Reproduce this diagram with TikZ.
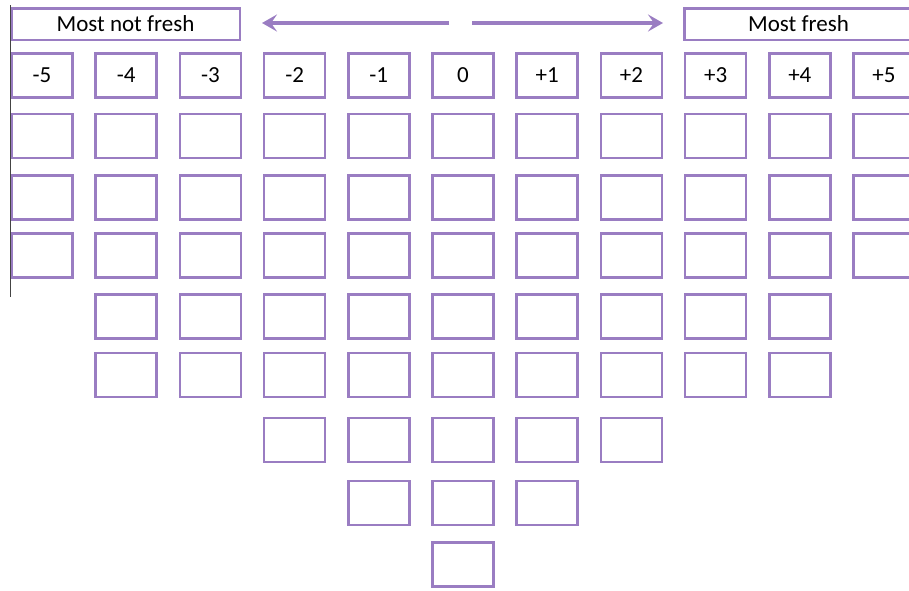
\documentclass[tikz,border=0pt]{standalone}
\usepackage{fontspec}
\setmainfont{Carlito}
\usetikzlibrary{arrows.meta,positioning}
\definecolor{lavender}{HTML}{9A7DC2}
\definecolor{edgegray}{HTML}{444444}

\begin{document}
\begin{tikzpicture}[x=1pt, y=-1pt,
  cell/.style={draw=lavender, line width=2.5pt, minimum width=61pt, minimum height=44pt, inner sep=0pt, font=\fontsize{23}{27}\selectfont},
  head/.style={cell, minimum width=228.5pt, minimum height=31.5pt},
  arr/.style={-{Stealth[length=15pt,width=17pt,inset=6pt]}, draw=lavender, line width=3.5pt}]
\useasboundingbox (0,0) rectangle (909,590);
% top labels and arrows
\node[head] (notfresh) at (125.5,24) {Most not fresh};
\node[head] (fresh) at (798.5,24) {Most fresh};
\coordinate (midl) at (449,23);
\coordinate (midr) at (472,23);
\draw[arr, shorten >=21pt] (midl) -- (notfresh.east |- midl);
\draw[arr, shorten >=20pt] (midr) -- (fresh.west |- midr);
% score row
\foreach \s [count=\i] in {-5,-4,-3,-2,-1,0,+1,+2,+3,+4,+5}
  \node[cell] (s\i) at ({42+(\i-1)*84.2},75.5) {\s};
% empty cells: row/y/first/last column
\foreach \r/\y/\a/\b in {1/136/1/11, 2/197.5/1/11, 3/255.5/1/11, 4/316.5/2/10, 5/375/2/10, 6/440/4/8, 7/503/5/7, 8/564.5/6/6}
  \foreach \i in {\a,...,\b}
    \node[cell] (c\r-\i) at ({42+(\i-1)*84.2},\y) {};
% page edge
\draw[edgegray, line width=1pt] (10,5) -- (10,297);
\end{tikzpicture}
\end{document}
